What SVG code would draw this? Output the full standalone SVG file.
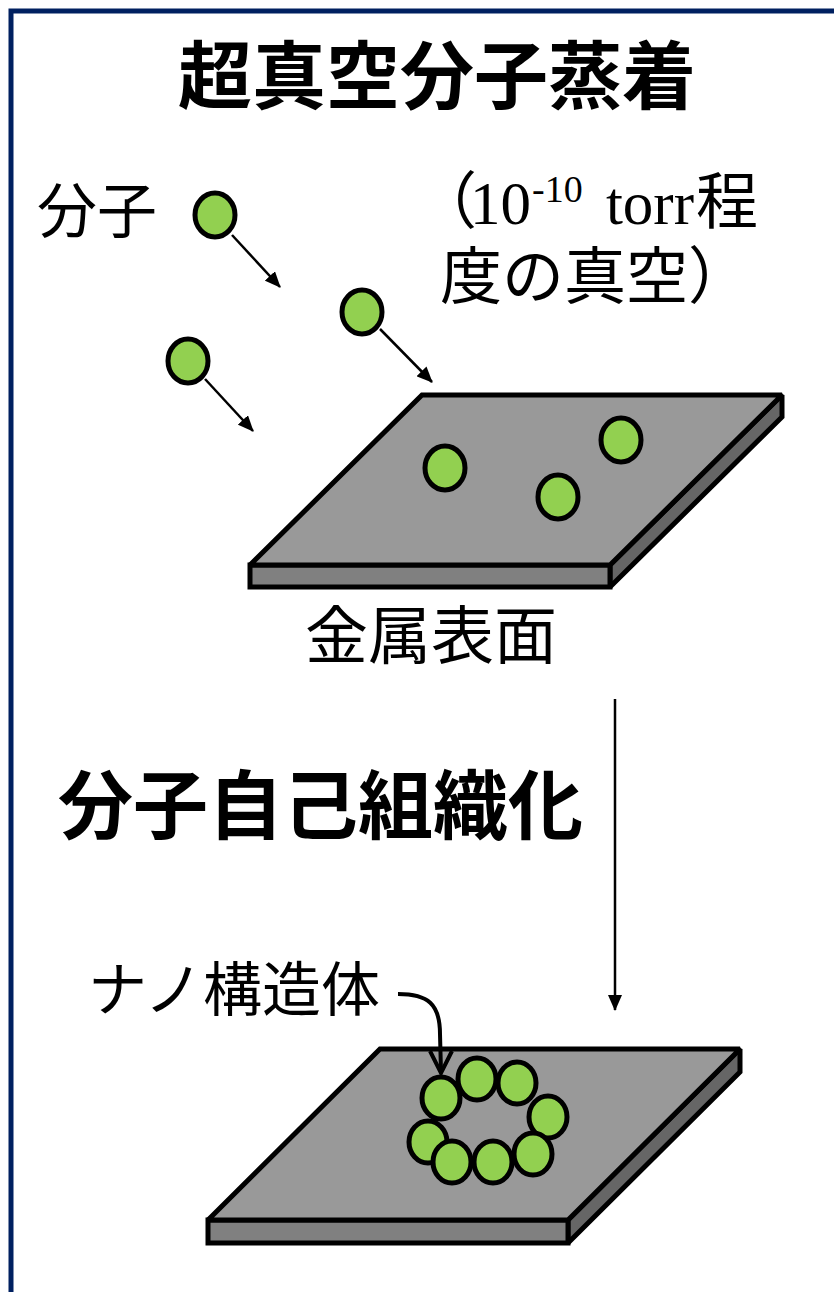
<svg xmlns="http://www.w3.org/2000/svg" width="834" height="1292" viewBox="0 0 834 1292">
  <style>
    .jp { font-family: "Noto Sans CJK JP", "Noto Sans", sans-serif; fill: #000; }
    .bold { font-weight: 700; }
    .serif { font-family: "Liberation Serif", "Noto Sans CJK JP", serif; }
    .mol { fill: #92D050; stroke: #000; stroke-width: 5; }
    .plate { stroke: #000; stroke-width: 5; stroke-linejoin: miter; stroke-miterlimit: 1.5; }
    .top { fill: #999999; }
    .front { fill: #808080; }
    .side { fill: #666666; }
    .arrow { stroke: #000; stroke-width: 2.5; fill: none; }
  </style>
  <defs>
    <marker id="head" viewBox="0 0 16 14" refX="15" refY="7" markerWidth="16" markerHeight="14" markerUnits="userSpaceOnUse" orient="auto">
      <path d="M0,0 L16,7 L0,14 Z" fill="#000"/>
    </marker>
  </defs>

  <!-- frame -->
  <rect x="11" y="11" width="840" height="1300" fill="none" stroke="#002060" stroke-width="5"/>

  <!-- title -->
  <text id="title" class="jp bold" x="437" y="103" font-size="74" text-anchor="middle">超真空分子蒸着</text>

  <g id="label-molecule">
    <text class="jp" x="37" y="233" font-size="60">分子</text>
  </g>

  <g id="label-vacuum">
    <text class="jp" x="415" y="224" font-size="62">（<tspan class="serif" dx="-7" font-size="61">10</tspan><tspan class="serif" dx="1" dy="-22" font-size="38">-10</tspan><tspan class="serif" dx="8" dy="22" font-size="61"> torr</tspan><tspan dx="2">程</tspan></text>
    <text class="jp" x="440" y="299" font-size="62">度の真空）</text>
  </g>

  <!-- falling molecules -->
  <g id="mol-1"><ellipse class="mol" cx="215" cy="215" rx="20" ry="22"/></g>
  <g id="mol-2"><ellipse class="mol" cx="362" cy="312" rx="20" ry="22"/></g>
  <g id="mol-3"><ellipse class="mol" cx="188" cy="361" rx="20" ry="22"/></g>

  <!-- substrate with adsorbed molecules -->
  <g id="surface-1">
    <polygon class="plate side" points="610,565 782,395 782,417 610,587"/>
    <rect class="plate front" x="250" y="565" width="360" height="22"/>
    <polygon class="plate top" points="250,565 422,395 782,395 610,565"/>
    <ellipse class="mol" cx="445" cy="468" rx="20" ry="22"/>
    <ellipse class="mol" cx="558" cy="497" rx="20" ry="22"/>
    <ellipse class="mol" cx="621" cy="440" rx="20" ry="22"/>
  </g>

  <g id="label-surface">
    <text class="jp" x="305" y="658" font-size="63">金属表面</text>
  </g>

  <g id="label-selfassembly">
    <text class="jp bold" x="58" y="833" font-size="75">分子自己組織化</text>
  </g>

  <g id="label-nano">
    <text class="jp" x="88" y="1011" font-size="59">ナノ構造体</text>
  </g>

  <!-- substrate with ring structure -->
  <g id="surface-2">
    <polygon class="plate side" points="568,1220 740,1049 740,1072 568,1243"/>
    <rect class="plate front" x="208" y="1220" width="360" height="23"/>
    <polygon class="plate top" points="208,1220 380,1049 740,1049 568,1220"/>
    <ellipse class="mol" cx="548" cy="1117" rx="19" ry="21"/>
    <ellipse class="mol" cx="533" cy="1154" rx="19" ry="21"/>
    <ellipse class="mol" cx="428" cy="1142" rx="19" ry="21"/>
    <ellipse class="mol" cx="441" cy="1098" rx="19" ry="21"/>
    <ellipse class="mol" cx="477" cy="1079" rx="19" ry="21"/>
    <ellipse class="mol" cx="517" cy="1083" rx="19" ry="21"/>
    <ellipse class="mol" cx="452" cy="1162" rx="19" ry="21"/>
    <ellipse class="mol" cx="493" cy="1162" rx="19" ry="21"/>
  </g>

  <!-- connectors -->
  <g id="connectors">
    <line class="arrow" x1="232" y1="235" x2="280" y2="287" marker-end="url(#head)"/>
    <line class="arrow" x1="380" y1="329" x2="432" y2="382" marker-end="url(#head)"/>
    <line class="arrow" x1="205" y1="379" x2="253" y2="431" marker-end="url(#head)"/>
    <line class="arrow" x1="615" y1="699" x2="615" y2="1010" stroke-width="3" marker-end="url(#head)"/>
    <path d="M398,994 C428,994 440,1004 440,1034 L441,1072" fill="none" stroke="#000" stroke-width="4"/>
    <path d="M430,1051 L441,1073 L452,1051" fill="none" stroke="#000" stroke-width="4" stroke-linejoin="miter"/>
  </g>
</svg>
